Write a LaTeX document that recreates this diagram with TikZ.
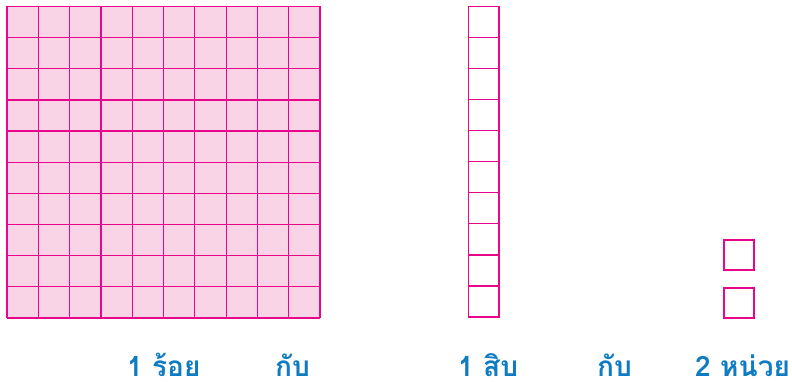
\documentclass[tikz,border=0pt]{standalone}
\usepackage{fontspec}
\newfontfamily\thaifont[Script=Thai,BoldFont={Loma Bold}]{Loma}
\definecolor{gridpink}{HTML}{E8068A}
\definecolor{fillpink}{HTML}{F9D4E6}
\definecolor{labelblue}{HTML}{0F7BC2}
\begin{document}
\begin{tikzpicture}[x=1pt,y=-1pt,
  cellline/.style={draw=gridpink,line width=1.2pt},
  lbl/.style={anchor=base west,inner sep=0pt,text depth=0pt,text=labelblue,font=\thaifont\bfseries\fontsize{28}{30}\selectfont}]
\useasboundingbox (0,0) rectangle (792,382);
% hundred square
\fill[fillpink] (7,6.5) rectangle (320,318);
\foreach \i in {0,...,10}{
  \draw[cellline] ({7+\i*31.3},6.5) -- ({7+\i*31.3},318);
  \draw[cellline] (7,{6.5+\i*31.15}) -- (320,{6.5+\i*31.15});
}
% ten column
\foreach \i in {0,...,9}{
  \draw[cellline] (468.5,{6.5+\i*31.05}) rectangle (499,{6.5+(\i+1)*31.05});
}
% units
\node[cellline,minimum size=30pt,inner sep=0pt] (u1) at (739,255) {};
\node[cellline,minimum size=30pt,inner sep=0pt] (u2) at (739,303) {};
% labels
\node[lbl] (t1) at (127,376.5) {1 ร้อย};
\node[lbl] (t2) at (275,376.5) {กับ};
\node[lbl] (t3) at (458,376.5) {1 สิบ};
\node[lbl] (t4) at (597,376.5) {กับ};
\node[lbl] (t5) at (695,376.5) {2 หน่วย};
\end{tikzpicture}
\end{document}
